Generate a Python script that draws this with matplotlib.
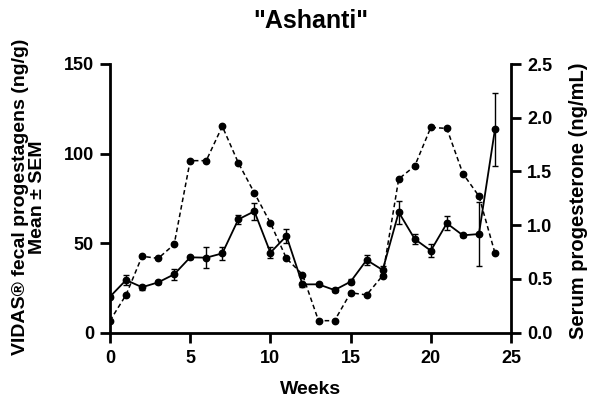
import matplotlib
matplotlib.use("Agg")
import matplotlib.pyplot as plt

plt.rcParams['font.family'] = ['Liberation Sans', 'DejaVu Sans']
plt.rcParams['font.weight'] = 'bold'

weeks = list(range(25))
fecal_mean = [20.0, 29.3, 25.3, 28.0, 32.5, 42.0, 41.8, 44.2, 63.2, 67.7, 44.6, 53.9, 26.9,
              26.9, 23.7, 28.4, 40.5, 34.9, 67.2, 52.2, 45.7, 61.0, 54.3, 55.0, 113.5]
fecal_sem = [0.8, 3.0, 1.5, 1.0, 3.0, 1.0, 5.8, 3.5, 2.5, 4.9, 3.0, 4.0, 1.5,
             1.0, 1.0, 1.5, 2.8, 2.0, 6.5, 3.0, 3.7, 3.9, 1.0, 18.0, 20.3]
serum = [0.11, 0.35, 0.71, 0.69, 0.82, 1.60, 1.60, 1.92, 1.58, 1.30, 1.02, 0.69, 0.54,
         0.11, 0.11, 0.37, 0.35, 0.53, 1.43, 1.55, 1.91, 1.90, 1.48, 1.27, 0.74]

W, H = 590, 399
fig = plt.figure(figsize=(W / 100, H / 100), dpi=100)
x0, x1, y0, y1 = 110, 511, 64, 332.5
ax = fig.add_axes([x0 / W, 1 - y1 / H, (x1 - x0) / W, (y1 - y0) / H])
ax2 = ax.twinx()

ax2.plot(weeks, serum, linestyle=(0, (3, 2)), color='black', linewidth=1.1,
         marker='o', markersize=4.6, zorder=2)
ax.errorbar(weeks, fecal_mean, yerr=fecal_sem, color='black', linewidth=1.3,
            marker='o', markersize=4.6, capsize=2, elinewidth=1.0, capthick=1.0, zorder=3)

ax.set_xlim(0, 25)
ax.set_ylim(0, 150)
ax2.set_ylim(0, 2.5)
ax.set_xticks([0, 5, 10, 15, 20, 25])
ax.set_yticks([0, 50, 100, 150])
ax2.set_yticks([0.0, 0.5, 1.0, 1.5, 2.0, 2.5])
ax2.set_yticklabels(['0.0', '0.5', '1.0', '1.5', '2.0', '2.5'])

for a in (ax, ax2):
    a.spines['top'].set_visible(False)
    for s in ('left', 'bottom', 'right'):
        a.spines[s].set_linewidth(2)
    a.tick_params(width=2, length=7.5, labelsize=13, pad=4)
    for lbl in a.get_xticklabels() + a.get_yticklabels():
        lbl.set_fontweight('bold')
ax.tick_params(axis='x', pad=5)
ax.spines['right'].set_visible(False)
ax2.spines['left'].set_visible(False)
ax2.spines['bottom'].set_visible(False)

fig.text(310.5 / W, 1 - 394 / H, 'Weeks', fontsize=14, fontweight='bold',
         ha='center', va='baseline')
fig.text(29 / W, 1 - 197 / H, 'VIDAS® fecal progestagens (ng/g)\nMean ± SEM', fontsize=14,
         fontweight='bold', rotation=90, ha='center', va='center', multialignment='center',
         linespacing=1.0)
fig.text(579 / W, 1 - 201 / H, 'Serum progesterone (ng/mL)', fontsize=14.5,
         fontweight='bold', rotation=90, ha='center', va='center')
fig.text(310.5 / W, 1 - 28 / H, '"Ashanti"', fontsize=18, fontweight='bold',
         ha='center', va='baseline')

fig.savefig('out.png', dpi=100)
